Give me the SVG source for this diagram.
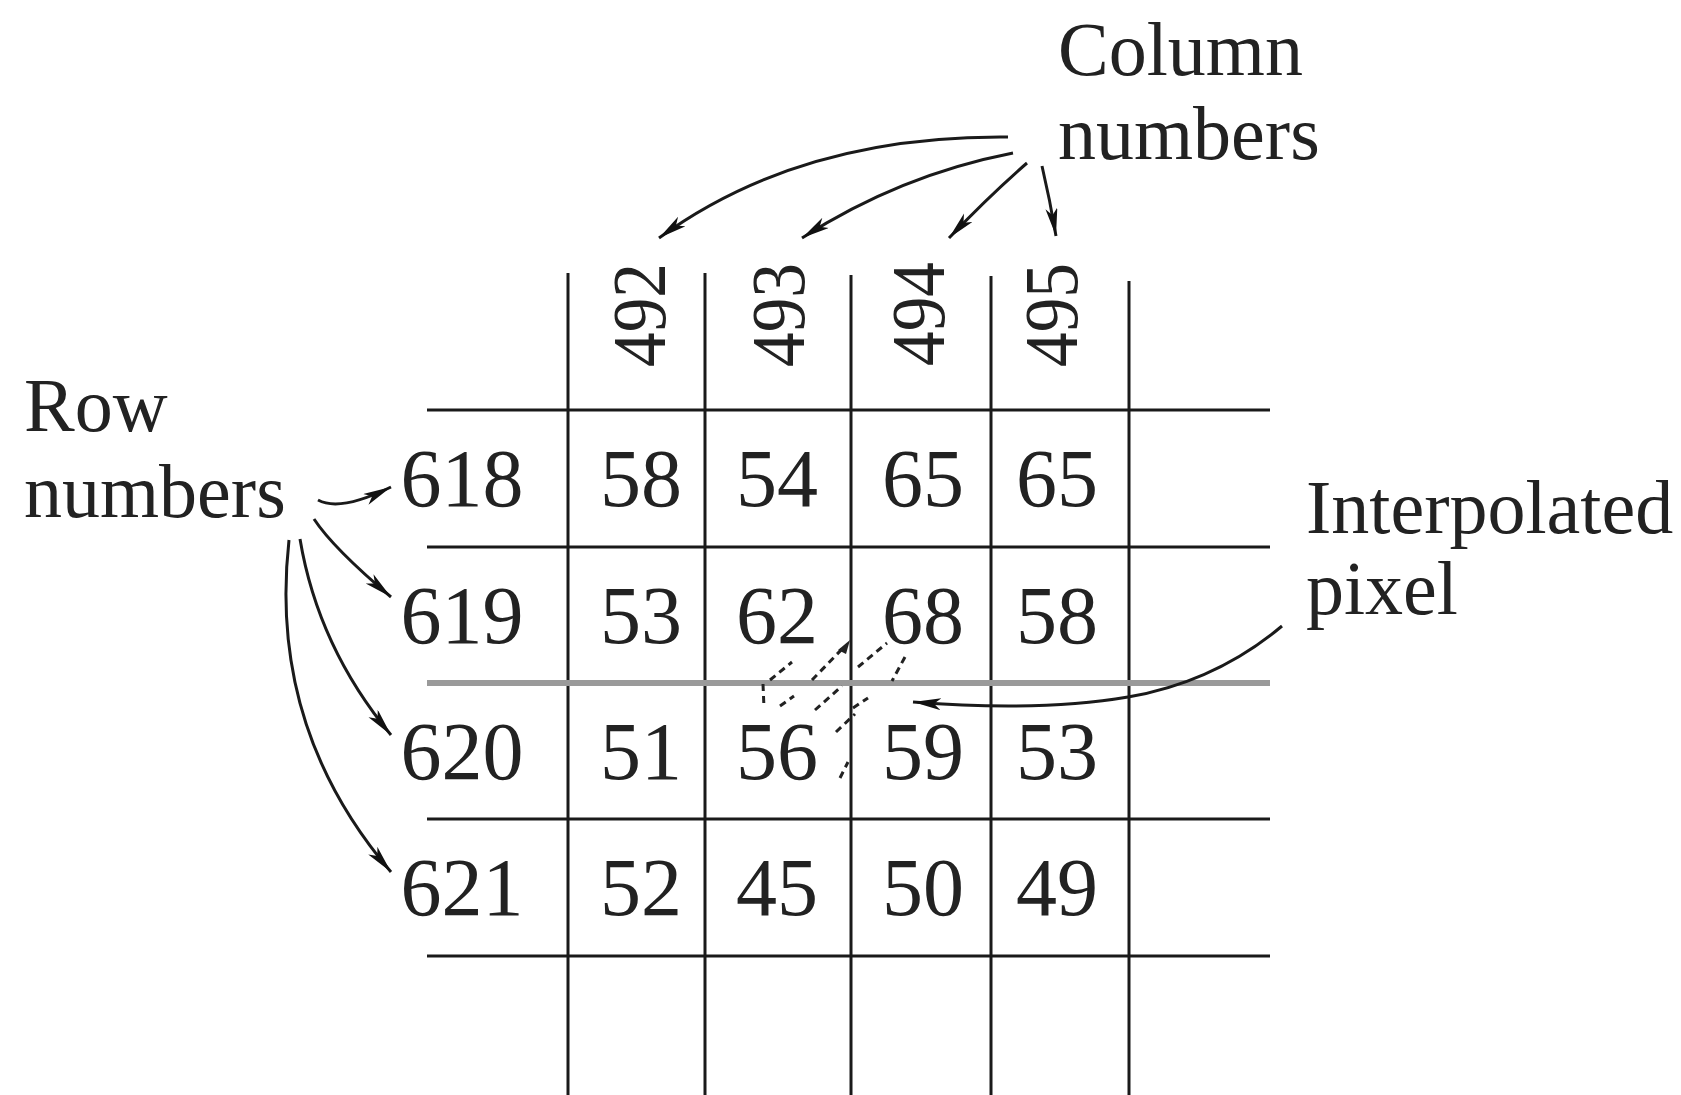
<svg xmlns="http://www.w3.org/2000/svg" width="1681" height="1095" viewBox="0 0 1681 1095">
<style>
  .lbl { font-family: "Liberation Serif", "Times New Roman", serif; font-size: 76px; fill: #222; }
  .num { font-family: "Liberation Serif", "Times New Roman", serif; font-size: 82px; fill: #222; text-anchor: middle; }
  .col { font-family: "Liberation Serif", "Times New Roman", serif; font-size: 76px; fill: #222; text-anchor: middle; }
  .grid { stroke: #1a1a1a; stroke-width: 3; fill: none; }
  .gray { stroke: #9a9a9a; stroke-width: 6; fill: none; }
  .arr { stroke: #1a1a1a; stroke-width: 3; fill: none; marker-end: url(#ah); }
  .dash { stroke: #222; stroke-width: 3; fill: none; stroke-dasharray: 7 5; }
</style>
<defs>
  <marker id="ah" markerUnits="userSpaceOnUse" markerWidth="32" markerHeight="14" refX="28" refY="6" orient="auto">
    <path d="M0,0 L28,6 L0,12 L7,6 z" fill="#111"/>
  </marker>
</defs>
<rect width="1681" height="1095" fill="#fff"/>

<g id="grid">
  <line class="grid" x1="568" y1="273" x2="568" y2="1095"/>
  <line class="grid" x1="705" y1="273" x2="705" y2="1095"/>
  <line class="grid" x1="851" y1="275" x2="851" y2="1095"/>
  <line class="grid" x1="991" y1="276" x2="991" y2="1095"/>
  <line class="grid" x1="1129" y1="281" x2="1129" y2="1095"/>
  <line class="grid" x1="427" y1="410" x2="1270" y2="410"/>
  <line class="grid" x1="427" y1="547" x2="1270" y2="547"/>
  <line class="gray" x1="427" y1="683" x2="1270" y2="683"/>
  <line class="grid" x1="427" y1="819" x2="1270" y2="819"/>
  <line class="grid" x1="427" y1="956" x2="1270" y2="956"/>
</g>

<g id="column-numbers">
  <text class="col" transform="translate(665,315) rotate(-90)" textLength="104" lengthAdjust="spacingAndGlyphs">492</text>
  <text class="col" transform="translate(804,315) rotate(-90)" textLength="104" lengthAdjust="spacingAndGlyphs">493</text>
  <text class="col" transform="translate(944,314) rotate(-90)" textLength="104" lengthAdjust="spacingAndGlyphs">494</text>
  <text class="col" transform="translate(1077,315) rotate(-90)" textLength="104" lengthAdjust="spacingAndGlyphs">495</text>
</g>

<g id="row-numbers">
  <text class="num" x="462" y="506">618</text>
  <text class="num" x="462" y="643">619</text>
  <text class="num" x="462" y="779">620</text>
  <text class="num" x="462" y="915">621</text>
</g>

<g id="cells">
  <text class="num" x="641" y="506">58</text>
  <text class="num" x="777" y="506">54</text>
  <text class="num" x="923" y="506">65</text>
  <text class="num" x="1057" y="506">65</text>
  <text class="num" x="641" y="643">53</text>
  <text class="num" x="777" y="643">62</text>
  <text class="num" x="923" y="643">68</text>
  <text class="num" x="1057" y="643">58</text>
  <text class="num" x="641" y="779">51</text>
  <text class="num" x="777" y="779">56</text>
  <text class="num" x="923" y="779">59</text>
  <text class="num" x="1057" y="779">53</text>
  <text class="num" x="641" y="915">52</text>
  <text class="num" x="777" y="915">45</text>
  <text class="num" x="923" y="915">50</text>
  <text class="num" x="1057" y="915">49</text>
</g>

<g id="interpolated-pixel-sketch">
  <line class="dash" x1="812" y1="680" x2="845" y2="646"/>
  <line class="dash" x1="770" y1="680" x2="792" y2="662"/>
  <line class="dash" x1="858" y1="667" x2="887" y2="643"/>
  <line class="dash" x1="763" y1="684" x2="764" y2="708"/>
  <line class="dash" x1="780" y1="706" x2="794" y2="696"/>
  <line class="dash" x1="815" y1="710" x2="842" y2="686"/>
  <line class="dash" x1="836" y1="732" x2="855" y2="714"/>
  <line class="dash" x1="853" y1="708" x2="868" y2="698"/>
  <line class="dash" x1="905" y1="657" x2="892" y2="681"/>
  <line class="dash" x1="840" y1="778" x2="848" y2="762"/>
  <path d="M838,650 L850,640 L846,654 z" fill="#222"/>
</g>

<g id="labels">
  <text class="lbl" x="1058" y="75">Column</text>
  <text class="lbl" x="1058" y="159">numbers</text>
  <text class="lbl" x="24" y="431">Row</text>
  <text class="lbl" x="24" y="517">numbers</text>
  <text class="lbl" x="1306" y="533">Interpolated</text>
  <text class="lbl" x="1306" y="614">pixel</text>
</g>

<g id="connectors">
  <path class="arr" d="M1008,137 Q800,135 659,238"/>
  <path class="arr" d="M1013,153 Q900,175 802,238"/>
  <path class="arr" d="M1027,163 Q990,195 949,238"/>
  <path class="arr" d="M1042,166 Q1050,200 1056,236"/>
  <path class="arr" d="M318,500 Q340,512 391,487"/>
  <path class="arr" d="M314,519 Q333,548 391,597"/>
  <path class="arr" d="M300,539 Q318,647 391,735"/>
  <path class="arr" d="M289,540 Q268,728 391,872"/>
  <path class="arr" d="M1282,626 Q1215,682 1128,697 Q1040,712 913,702"/>
</g>
</svg>
